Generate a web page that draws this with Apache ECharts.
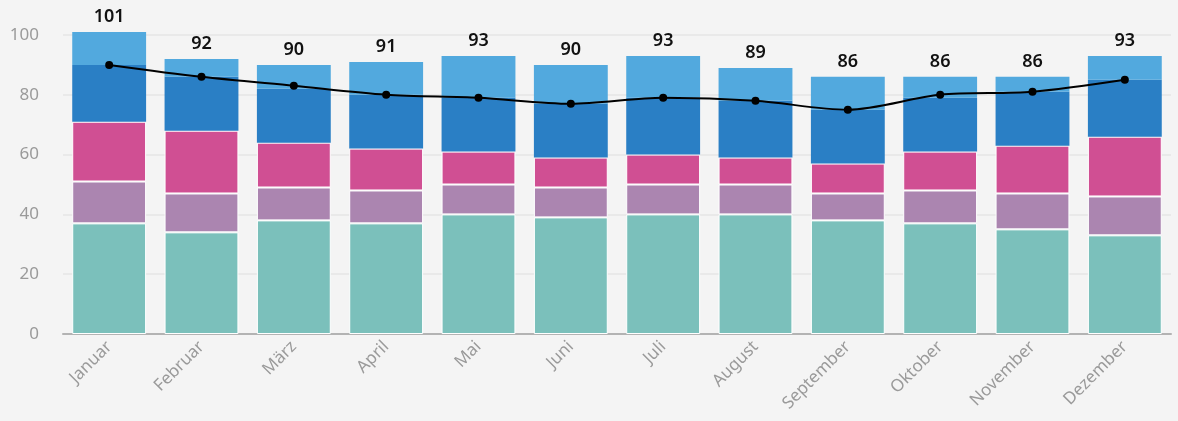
<!DOCTYPE html>
<html>
<head>
<meta charset="utf-8">
<script src="https://cdn.jsdelivr.net/npm/echarts@6/dist/echarts.min.js"></script>
<style>
  html, body { margin: 0; padding: 0; background: #f4f4f4; }
  #chart { width: 1178px; height: 421px; }
</style>
</head>
<body>
<div id="chart"></div>
<script>
const months = ['Januar', 'Februar', 'März', 'April', 'Mai', 'Juni', 'Juli', 'August', 'September', 'Oktober', 'November', 'Dezember']

// gestapelte Anteile (von unten nach oben)
const teal = [37, 34, 38, 37, 40, 39, 40, 40, 38, 37, 35, 33]
const mauve = [14, 13, 11, 11, 10, 10, 10, 10, 9, 11, 12, 13]
const pink = [20, 21, 15, 14, 11, 10, 10, 9, 10, 13, 16, 20]
const blue = [19, 18, 18, 18, 18, 18, 19, 19, 18, 18, 18, 19]
const lightBlue = [11, 6, 8, 11, 14, 13, 14, 11, 11, 7, 5, 8]

// Linie
const lineValues = [90, 86, 83, 80, 79, 77, 79, 78, 75, 80, 81, 85]

const totals = months.map((_, i) => teal[i] + mauve[i] + pink[i] + blue[i] + lightBlue[i])

const font = 'Noto Sans'
const chart = echarts.init(document.getElementById('chart'))

const barSeries = (name, data, color, border) => ({
  name,
  type: 'bar',
  stack: 'total',
  data,
  barCategoryGap: '20%',
  clip: false,
  itemStyle: border
    ? { color, borderColor: '#fff', borderWidth: 1 }
    : { color },
  emphasis: { disabled: true }
})

chart.setOption({
  backgroundColor: '#f4f4f4',
  animation: false,
  textStyle: { fontFamily: font },
  grid: { left: 63, right: 7, top: 35, bottom: 87 },
  xAxis: {
    type: 'category',
    data: months,
    axisLine: { lineStyle: { color: '#b3b3b3', width: 2 } },
    axisTick: { alignWithLabel: true, length: 3, lineStyle: { color: '#b3b3b3' } },
    axisLabel: { rotate: 45, color: '#9a9a9a', fontSize: 17, margin: 10, fontFamily: font }
  },
  yAxis: {
    type: 'value',
    min: 0,
    max: 100,
    interval: 20,
    axisLine: { show: false },
    axisTick: { show: false },
    axisLabel: { color: '#9a9a9a', fontSize: 17, margin: 24, fontFamily: font },
    splitLine: { lineStyle: { color: '#e9e9e9', width: 2 } }
  },
  series: [
    barSeries('A', teal, '#7bc0bb', true),
    barSeries('B', mauve, '#ab85b0', true),
    barSeries('C', pink, '#d04f93', true),
    barSeries('D', blue, '#2a7fc5', false),
    Object.assign(barSeries('E', lightBlue, '#52a9de', false), {
      label: {
        show: true,
        position: 'top',
        distance: 6,
        color: '#111',
        fontSize: 18,
        fontWeight: 600,
        fontFamily: font,
        formatter: p => totals[p.dataIndex]
      }
    }),
    {
      name: 'Linie',
      type: 'line',
      data: lineValues,
      smooth: 0.3,
      symbol: 'circle',
      symbolSize: 8,
      z: 5,
      lineStyle: { color: '#000', width: 2 },
      itemStyle: { color: '#000' },
      emphasis: { disabled: true }
    }
  ]
})
</script>
</body>
</html>
